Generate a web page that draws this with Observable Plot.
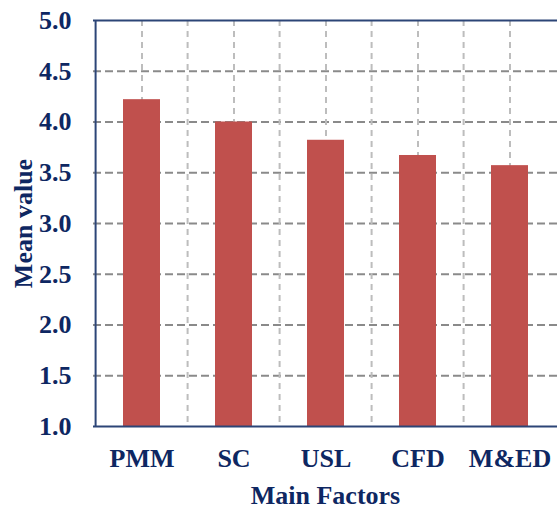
<!DOCTYPE html>
<html>
<head>
<meta charset="utf-8">
<script src="https://cdn.jsdelivr.net/npm/d3@7"></script>
<script src="https://cdn.jsdelivr.net/npm/@observablehq/plot@0.6"></script>
<style>
  html, body { margin: 0; padding: 0; background: #fff; overflow: hidden; }
  svg text { font-family: "Liberation Serif", "Times New Roman", serif !important; font-weight: bold; }
</style>
</head>
<body>
<div id="chart"></div>
<script>
const categories = ["PMM", "SC", "USL", "CFD", "M&ED"];
const meanValues = [4.22, 4.0, 3.82, 3.67, 3.57];
const yTicks = [1.0, 1.5, 2.0, 2.5, 3.0, 3.5, 4.0, 4.5, 5.0];
const xLabel = "Main Factors";
const yLabel = "Mean value";

const data = categories.map((c, i) => ({cat: c, value: meanValues[i]}));

const W = 557, H = 508, ML = 93, MR = 0, MT = 20, MB = 82;
const half = (W - ML - MR) / categories.length / 2;
const navy = "#0e2762";
const border = "#2c4577";
const font = "'Liberation Serif', 'Times New Roman', serif";

const chart = Plot.plot({
  width: W, height: H,
  marginLeft: ML, marginRight: MR, marginTop: MT, marginBottom: MB,
  style: {fontFamily: font, fontWeight: "bold", background: "#fff"},
  x: {domain: categories, paddingInner: 0.6, paddingOuter: 0.3, label: null},
  y: {domain: [1, 5], label: null},
  marks: [
    Plot.ruleY(yTicks.slice(1, -1), {stroke: "#8a8a8a", strokeWidth: 2, strokeDasharray: "8,4"}),
    Plot.ruleX(categories, {x: d => d, stroke: "#bdbdbd", strokeWidth: 2, strokeDasharray: "6,5"}),
    Plot.ruleX(categories.slice(1), {x: d => d, dx: -half, stroke: "#bdbdbd", strokeWidth: 2, strokeDasharray: "6,5"}),
    Plot.barY(data, {x: "cat", y1: 1, y2: "value", fill: "#c0504d"}),
    Plot.ruleY([1, 5], {stroke: border, strokeWidth: 2}),
    Plot.ruleX([categories[0]], {x: d => d, dx: -half, stroke: border, strokeWidth: 2}),
    Plot.axisY({ticks: yTicks, tickFormat: d3.format(".1f"), tickSize: 0, tickPadding: 22, fontSize: 26, fill: navy, label: null}),
    Plot.axisX({tickSize: 0, tickPadding: 22, fontSize: 26, fill: navy, label: null}),
    Plot.text([yLabel], {frameAnchor: "left", dx: -70, rotate: -90, textAnchor: "middle", lineAnchor: "middle", fontSize: 26, fill: navy, fontWeight: "bold"}),
    Plot.text([xLabel], {frameAnchor: "bottom", dy: 69, textAnchor: "middle", lineAnchor: "middle", fontSize: 26, fill: navy, fontWeight: "bold"})
  ]
});
document.getElementById("chart").appendChild(chart);
</script>
</body>
</html>
